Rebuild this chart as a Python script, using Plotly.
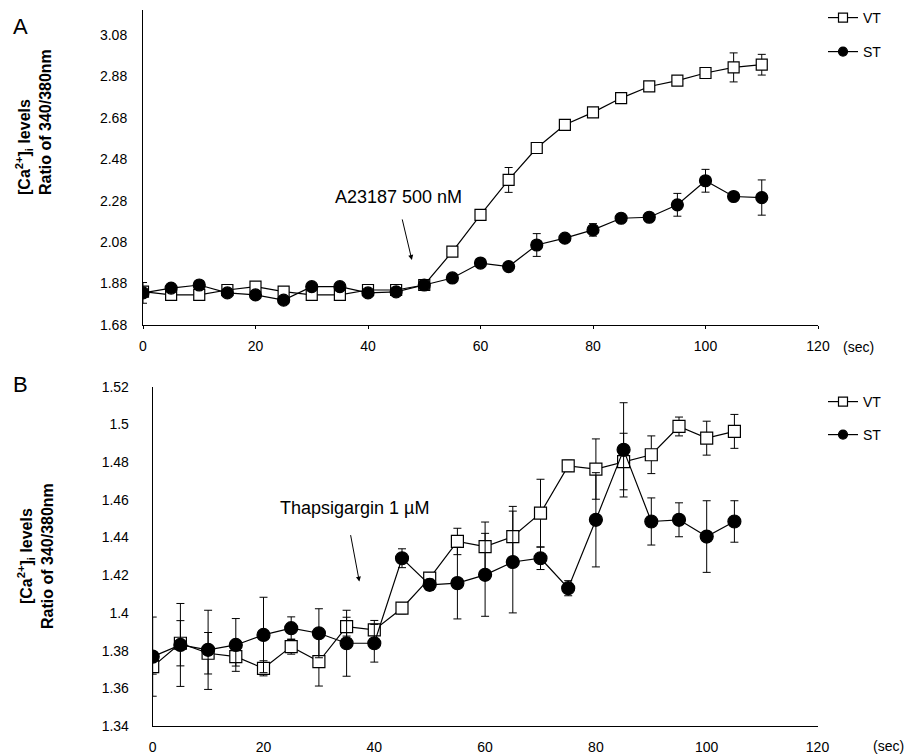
import plotly.graph_objects as go

# ---------------- data ----------------
time_a = [0, 5, 10, 15, 20, 25, 30, 35, 40, 45, 50, 55, 60, 65, 70, 75, 80, 85, 90, 95, 100, 105, 110]
vt_a = [1.841, 1.825, 1.825, 1.849, 1.865, 1.841, 1.825, 1.825, 1.849, 1.849, 1.873, 2.034,
        2.211, 2.380, 2.534, 2.646, 2.706, 2.775, 2.831, 2.859, 2.896, 2.923, 2.936]
vt_a_err = [0.01, 0.01, 0.01, 0.01, 0.01, 0.01, 0.01, 0.01, 0.01, 0.01, 0.01, 0.015,
            0.015, 0.06, 0.02, 0.015, 0.015, 0.02, 0.015, 0.015, 0.02, 0.07, 0.05]
st_a = [1.835, 1.858, 1.873, 1.835, 1.825, 1.800, 1.865, 1.865, 1.835, 1.840, 1.873, 1.907,
        1.979, 1.962, 2.066, 2.099, 2.139, 2.195, 2.200, 2.260, 2.376, 2.300, 2.295]
st_a_err = [0.05, 0.015, 0.02, 0.01, 0.01, 0.01, 0.01, 0.01, 0.01, 0.01, 0.01, 0.01,
            0.01, 0.01, 0.055, 0.01, 0.03, 0.01, 0.01, 0.055, 0.055, 0.01, 0.085]

time_b = [0, 5, 10, 15, 20, 25, 30, 35, 40, 45, 50, 55, 60, 65, 70, 75, 80, 85, 90, 95, 100, 105]
vt_b = [1.3715, 1.3839, 1.3786, 1.3768, 1.3706, 1.3821, 1.3742, 1.3927, 1.3910, 1.4025, 1.4184,
        1.4379, 1.4352, 1.4405, 1.4529, 1.4780, 1.4763, 1.4803, 1.4839, 1.4989, 1.4927, 1.4963]
vt_b_err = [0.004, 0.012, 0.011, 0.005, 0.004, 0.004, 0.013, 0.005, 0.005, 0.003, 0.003,
            0.007, 0.013, 0.016, 0.018, 0.003, 0.016, 0.015, 0.010, 0.005, 0.009, 0.009]
st_b = [1.3768, 1.3830, 1.3804, 1.3830, 1.3883, 1.3919, 1.3892, 1.3839, 1.3839, 1.4290, 1.4149,
        1.4158, 1.4202, 1.4270, 1.4290, 1.4131, 1.4494, 1.4865, 1.4485, 1.4494, 1.4405, 1.4485]
st_b_err = [0.021, 0.022, 0.021, 0.014, 0.020, 0.006, 0.013, 0.0175, 0.010, 0.005, 0.003,
            0.019, 0.022, 0.027, 0.006, 0.004, 0.025, 0.025, 0.0125, 0.009, 0.019, 0.011]

x_ticks = [0, 20, 40, 60, 80, 100, 120]
y_ticks_a = [1.68, 1.88, 2.08, 2.28, 2.48, 2.68, 2.88, 3.08]
y_ticks_a_text = ["1.68", "1.88", "2.08", "2.28", "2.48", "2.68", "2.88", "3.08"]
y_ticks_b = [1.34, 1.36, 1.38, 1.40, 1.42, 1.44, 1.46, 1.48, 1.50, 1.52]
y_ticks_b_text = ["1.34", "1.36", "1.38", "1.4", "1.42", "1.44", "1.46", "1.48", "1.5", "1.52"]

# ---------------- figure ----------------
W, H = 909, 756
NARROW = "Liberation Sans Narrow, Arial Narrow, Liberation Sans, Arial, sans-serif"
ARIAL = "Liberation Sans, Arial, sans-serif"


def px_x(p):
    return p / W


def px_y(p):
    return 1 - p / H


fig = go.Figure()


def add_series(x, y, err, symbol, fill, size, xa, ya):
    fig.add_trace(go.Scatter(
        x=x, y=y, mode="lines+markers", xaxis=xa, yaxis=ya, showlegend=False,
        line=dict(color="black", width=1.2),
        marker=dict(symbol=symbol, size=size, color=fill, line=dict(color="black", width=1.2)),
        error_y=dict(type="data", array=err, color="black", thickness=1, width=4),
    ))


add_series(time_a, vt_a, vt_a_err, "square", "white", 11, "x", "y")
add_series(time_a, st_a, st_a_err, "circle", "black", 12, "x", "y")
add_series(time_b, vt_b, vt_b_err, "square", "white", 12, "x2", "y2")
add_series(time_b, st_b, st_b_err, "circle", "black", 13, "x2", "y2")

# legend entries (one legend per entry for exact placement)
legend_specs = [
    ("VT", "square", "white", "legend", 18),
    ("ST", "circle", "black", "legend2", 52),
    ("VT", "square", "white", "legend3", 402),
    ("ST", "circle", "black", "legend4", 435),
]
for name, sym, fill, lg, _ in legend_specs:
    fig.add_trace(go.Scatter(
        x=[None], y=[None], name=name, mode="lines+markers", legend=lg,
        line=dict(color="black", width=1.2),
        marker=dict(symbol=sym, size=9, color=fill, line=dict(color="black", width=1.2)),
    ))

leg_common = dict(bgcolor="rgba(0,0,0,0)", borderwidth=0, xanchor="left", yanchor="middle",
                  font=dict(family=NARROW, size=14, color="black"), itemwidth=30)
layout_legends = {}
for name, sym, fill, lg, ypx in legend_specs:
    layout_legends[lg] = dict(x=px_x(823), y=px_y(ypx), **leg_common)

axis_common = dict(showline=True, linecolor="black", linewidth=1, showgrid=False, zeroline=False,
                   automargin=False, tickfont=dict(family=NARROW, size=14, color="black"))

fig.update_layout(
    template="none",
    width=W, height=H, margin=dict(l=0, r=0, t=0, b=0, pad=0),
    paper_bgcolor="white", plot_bgcolor="white",
    xaxis=dict(domain=[px_x(143), px_x(818)], range=[0, 120], anchor="y",
               tickvals=x_ticks, ticks="outside", ticklen=3, tickcolor="black",
               ticklabelstandoff=5, **axis_common),
    yaxis=dict(domain=[px_y(325), px_y(10)], range=[1.68, 3.2], anchor="x",
               tickvals=y_ticks_a, ticktext=y_ticks_a_text, ticks="",
               ticklabelstandoff=12, **axis_common),
    xaxis2=dict(domain=[px_x(152.7), px_x(817.5)], range=[0, 120], anchor="y2",
                tickvals=x_ticks, ticks="", ticklabelstandoff=8, **axis_common),
    yaxis2=dict(domain=[px_y(726), px_y(386.7)], range=[1.34, 1.52], anchor="x2",
                tickvals=y_ticks_b, ticktext=y_ticks_b_text, ticks="",
                ticklabelstandoff=20, **axis_common),
    **layout_legends,
)

title_text = "<b>[Ca<sup>2+</sup>]<sub>i</sub> levels<br>Ratio of 340/380nm</b>"
paper_common = dict(xref="paper", yref="paper", showarrow=False, xanchor="center", yanchor="middle")
annotations = [
    dict(text="A", x=px_x(20), y=px_y(27), font=dict(family=ARIAL, size=22, color="black"),
         **paper_common),
    dict(text="B", x=px_x(20), y=px_y(384), font=dict(family=ARIAL, size=22, color="black"),
         **paper_common),
    dict(text=title_text, x=px_x(33), y=px_y(122), textangle=-90, align="left",
         font=dict(family=ARIAL, size=16, color="black"), **paper_common),
    dict(text=title_text, x=px_x(35), y=px_y(556), textangle=-90, align="center",
         font=dict(family=ARIAL, size=16, color="black"), **paper_common),
    dict(text="(sec)", x=px_x(858), y=px_y(347), font=dict(family=NARROW, size=14, color="black"),
         **paper_common),
    dict(text="(sec)", x=px_x(888), y=px_y(746), font=dict(family=NARROW, size=14, color="black"),
         **paper_common),
    dict(text="A23187 500 nM", x=45.5, y=2.298, xref="x", yref="y", showarrow=False,
         font=dict(family=ARIAL, size=18, color="black")),
    dict(text="", x=47.8, y=1.994, xref="x", yref="y", showarrow=True, ax=-10, ay=-42,
         arrowhead=2, arrowsize=1, arrowwidth=1, arrowcolor="black"),
    dict(text="Thapsigargin 1 µM", x=36.5, y=1.4557, xref="x2", yref="y2", showarrow=False,
         font=dict(family=ARIAL, size=18, color="black")),
    dict(text="", x=37.3, y=1.4166, xref="x2", yref="y2", showarrow=True, ax=-9, ay=-48,
         arrowhead=2, arrowsize=1, arrowwidth=1, arrowcolor="black"),
]
fig.update_layout(annotations=annotations)

fig.write_html(
    "out.html",
    config={"displayModeBar": False},
    post_script="document.body.style.margin='0';document.documentElement.style.overflow='hidden';",
)
